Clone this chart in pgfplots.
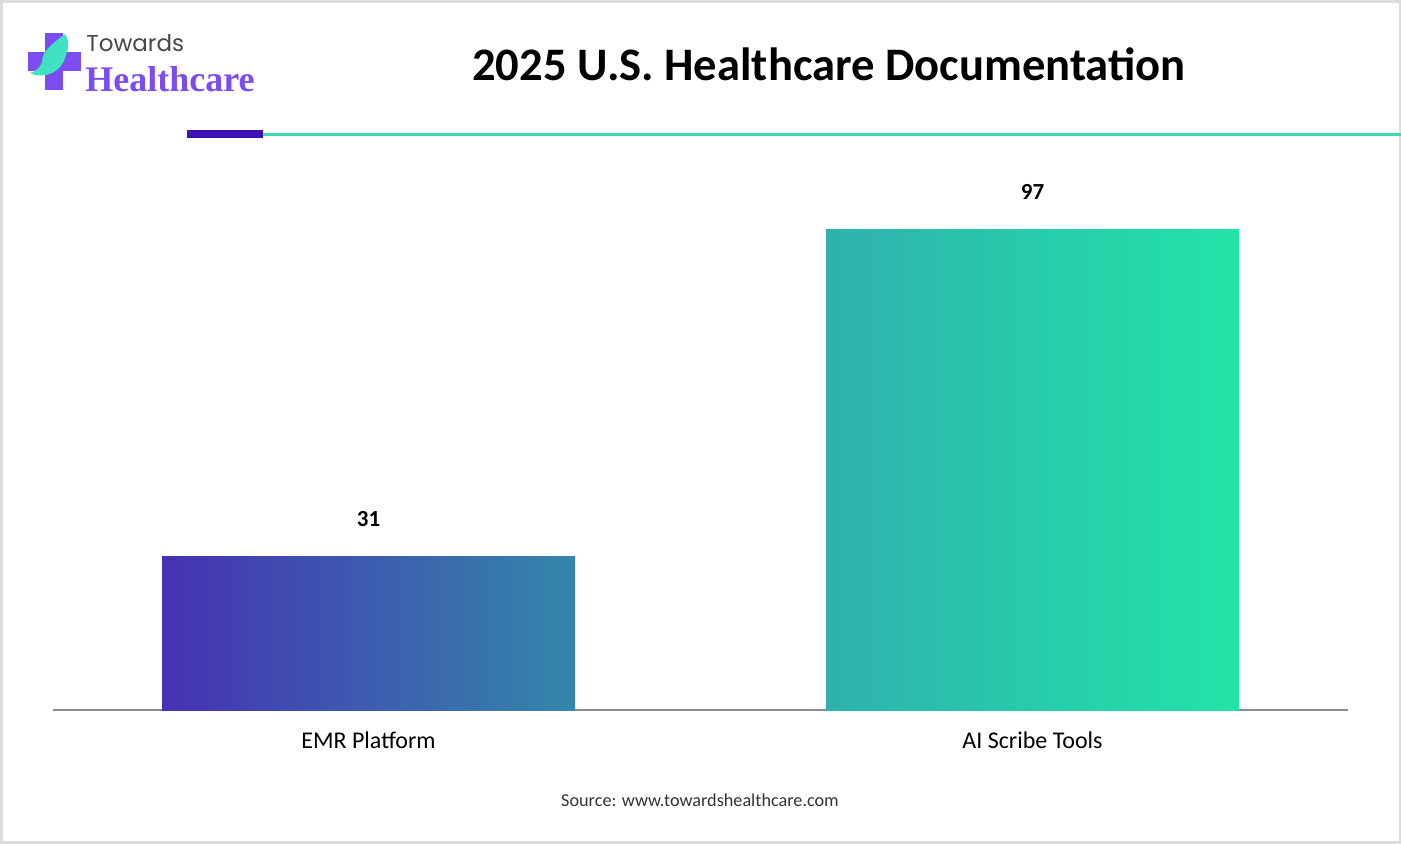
\documentclass[border=0pt]{standalone}
\usepackage{pgfplots}
\pgfplotsset{compat=1.18}
\usepackage{fontspec}
\setmainfont{Carlito}
\newfontfamily\logosans{Poppins}
\newfontfamily\logoserif{Liberation Serif}
\definecolor{barAL}{HTML}{4631B3}
\definecolor{barAR}{HTML}{3487AA}
\definecolor{barBL}{HTML}{2FB1AE}
\definecolor{barBR}{HTML}{22E4A8}
\definecolor{hdrPurple}{HTML}{3D12B5}
\definecolor{hdrTeal}{HTML}{3DDBB0}
\definecolor{logoPurple}{HTML}{7B4CF0}
\definecolor{logoTeal}{HTML}{3FE3C2}
\definecolor{frameGray}{HTML}{DCDCDC}
\begin{document}
\begin{tikzpicture}
\begin{scope}[x=0.5pt,y=-0.5pt]
  \useasboundingbox (0,0) rectangle (1401,843);
  \draw[frameGray, line width=1.5pt] (1,1) rectangle (1400,842);
  % logo
  \fill[logoPurple] (45,33) rectangle (63,90);
  \fill[logoPurple] (28,52) rectangle (81,71);
  \fill[logoTeal] (30,73) .. controls (45,80) and (62,72) .. (66,55)
     .. controls (70,45) and (68,38) .. (65,34)
     .. controls (55,42) and (42,50) .. (42,62)
     .. controls (40,68) and (35,72) .. (30,73) -- cycle;
  \node[anchor=base west, inner sep=0pt, text=black!72] at (86,51) {\logosans\fontsize{11.5}{12}\selectfont Towards};
  \node[anchor=base west, inner sep=0pt, text=logoPurple] at (85,91) {\logoserif\bfseries\fontsize{18}{20}\selectfont Healthcare};
  % title
  \node[anchor=center, inner sep=0pt] at (829,64) {\bfseries\fontsize{23.3}{26}\selectfont 2025 U.S. Healthcare Documentation};
  % header rule
  \fill[hdrTeal] (263,132.5) rectangle (1401,135.5);
  \fill[hdrPurple] (187,130) rectangle (263,138);
  % source
  \node[anchor=center, inner sep=0pt, text=black!80] at (700,800) {\fontsize{9.1}{11}\selectfont Source: www.towardshealthcare.com};
\end{scope}
\begin{axis}[
  at={(26.5pt,-355pt)}, anchor=south west,
  scale only axis,
  width=647.5pt, height=247.5pt,
  xmin=-0.4752, xmax=1.4752,
  ymin=0, ymax=100,
  axis x line*=bottom,
  axis y line=none,
  x axis line style={black!45, line width=0.8pt},
  xtick={0,1},
  xticklabels={EMR Platform, AI Scribe Tools},
  major tick length=0pt,
  xticklabel style={anchor=base, yshift=-19pt, font=\fontsize{12}{14}\selectfont},
  /pgf/number format/assume math mode=true,
  nodes near coords,
  every node near coord/.append style={anchor=base, yshift=15pt, font=\bfseries\fontsize{11.5}{13}\selectfont, text=black},
  clip=false,
]
\addplot[ybar, bar width=206.5pt, bar shift=0pt, draw=none, left color=barAL, right color=barAR] coordinates {(0,31)};
\addplot[ybar, bar width=206.5pt, bar shift=0pt, draw=none, left color=barBL, right color=barBR] coordinates {(1,97)};
\end{axis}
\end{tikzpicture}
\end{document}
